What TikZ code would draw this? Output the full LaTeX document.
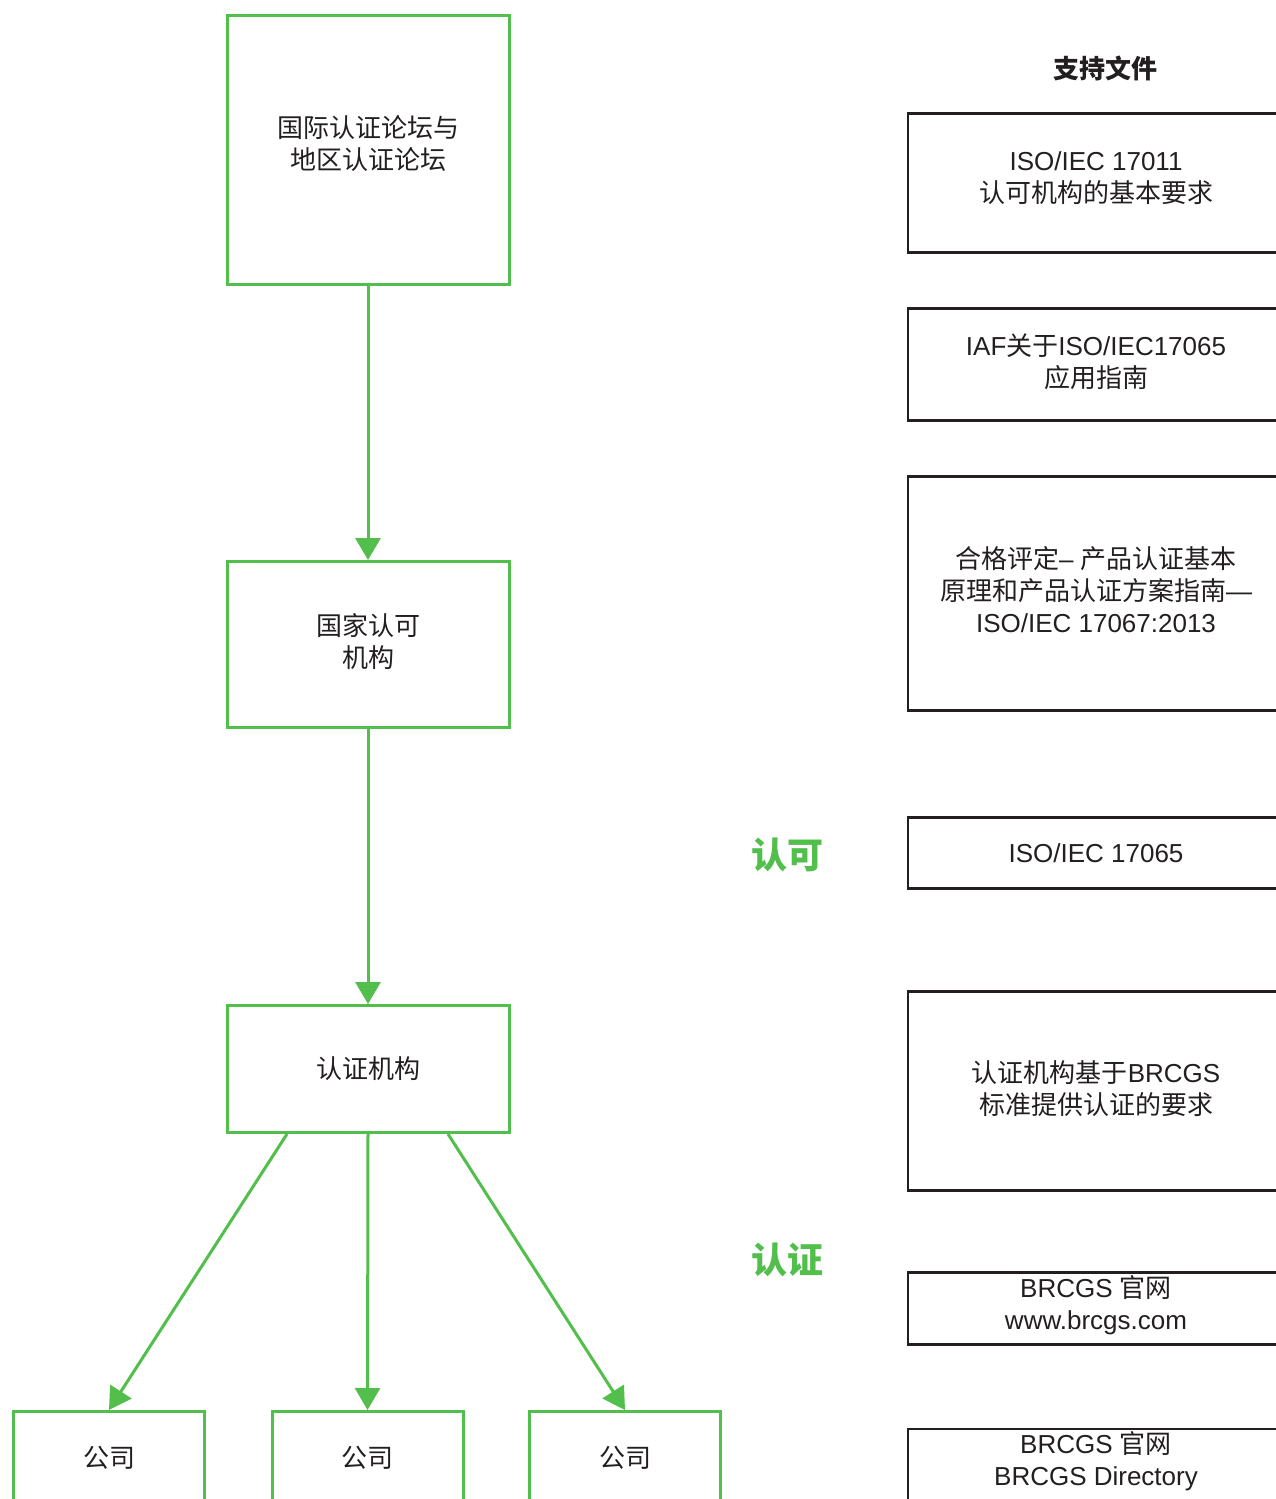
\documentclass[tikz,border=0pt]{standalone}
\usepackage{fontspec}
\setmainfont{Liberation Sans}
\newfontfamily\cjk{Noto Sans CJK SC}
\usetikzlibrary{arrows.meta,calc}
\definecolor{grn}{HTML}{52BE4B}
\definecolor{ink}{HTML}{231F20}
\begin{document}
\begin{tikzpicture}[x=1pt,y=-1pt,
  gbox/.style={draw=grn, line width=3pt, minimum width=282pt, inner sep=0pt},
  gtext/.style={align=center, inner sep=0pt, text=ink, font=\fontsize{26}{32}\selectfont\cjk},
  cbox/.style={draw=grn, line width=3pt, minimum width=191pt, inner sep=0pt, anchor=north, minimum height=150pt, text height=56pt, text depth=94pt, text=ink, font=\fontsize{26}{32}\selectfont\cjk},
  rbox/.style={draw=ink, line width=2.5pt, minimum width=376pt, inner sep=0pt},
  rtext/.style={align=center, inner sep=0pt, text=ink, font=\fontsize{26}{32}\selectfont},
  glabel/.style={text=grn, inner sep=0pt, font=\fontsize{36}{40}\selectfont\cjk\bfseries},
  arr/.style={draw=grn, line width=3pt, -{Triangle[length=22pt,width=25pt]}}]
\useasboundingbox (0,0) rectangle (1276,1499);
\clip (0,0) rectangle (1276,1499);
\fill[white] (0,0) rectangle (1276,1499);

% left column
\node[gbox, minimum height=269pt, label={[gtext,yshift=6pt]center:国际认证论坛与\\地区认证论坛}] (A) at (368,150) {};
\node[gbox, minimum height=166pt, label={[gtext,yshift=2.5pt]center:国家认可\\机构}] (B) at (368,644.5) {};
\node[gbox, minimum height=127pt, label={[gtext]center:认证机构}] (C) at (368,1069) {};
\node[cbox] (c1) at (109,1410) {公司};
\node[cbox] (c2) at (367.5,1410) {公司};
\node[cbox] (c3) at (625,1410) {公司};

\draw[arr] (A.south) -- (B.north);
\draw[arr] (B.south) -- (C.north);
\draw[arr] ([xshift=-81pt]C.south) -- (c1.north);
\draw[arr] (C.south) -- (c2.north);
\draw[arr] ([xshift=80pt]C.south) -- (c3.north);

% labels
\node[glabel] (lk) at (787,855) {认可};
\node[glabel] (lc) at (787,1260) {认证};
\node[text=ink, inner sep=0pt, font=\fontsize{26}{32}\selectfont\cjk\bfseries] (title) at (1105,68) {支持文件};

% right column
\node[rbox, minimum height=139pt, label={[rtext,yshift=5pt]center:ISO/IEC 17011\\{\cjk 认可机构的基本要求}}] (r1) at (1096,183) {};
\node[rbox, minimum height=112pt, label={[rtext,yshift=3pt]center:IAF{\cjk 关于}ISO/IEC17065\\{\cjk 应用指南}}] (r2) at (1096,364.5) {};
\node[rbox, minimum height=234pt, label={[rtext,yshift=4pt]center:{\cjk 合格评定}– {\cjk 产品认证基本}\\{\cjk 原理和产品认证方案指南}—\\ISO/IEC 17067:2013}] (r3) at (1096,593.5) {};
\node[rbox, minimum height=71pt, label={[rtext]center:ISO/IEC 17065}] (r4) at (1096,853) {};
\node[rbox, minimum height=199pt, label={[rtext,yshift=2pt]center:{\cjk 认证机构基于}BRCGS\\{\cjk 标准提供认证的要求}}] (r5) at (1096,1091) {};
\node[rbox, minimum height=72pt, label={[rtext,yshift=3pt]center:BRCGS {\cjk 官网}\\www.brcgs.com}] (r6) at (1096,1308.5) {};
\node[rbox, anchor=north, minimum height=140pt] (r7) at (1096,1427.5) {};
\node[rtext] (r7t) at (1096,1461) {BRCGS {\cjk 官网}\\BRCGS Directory};
\end{tikzpicture}
\end{document}
